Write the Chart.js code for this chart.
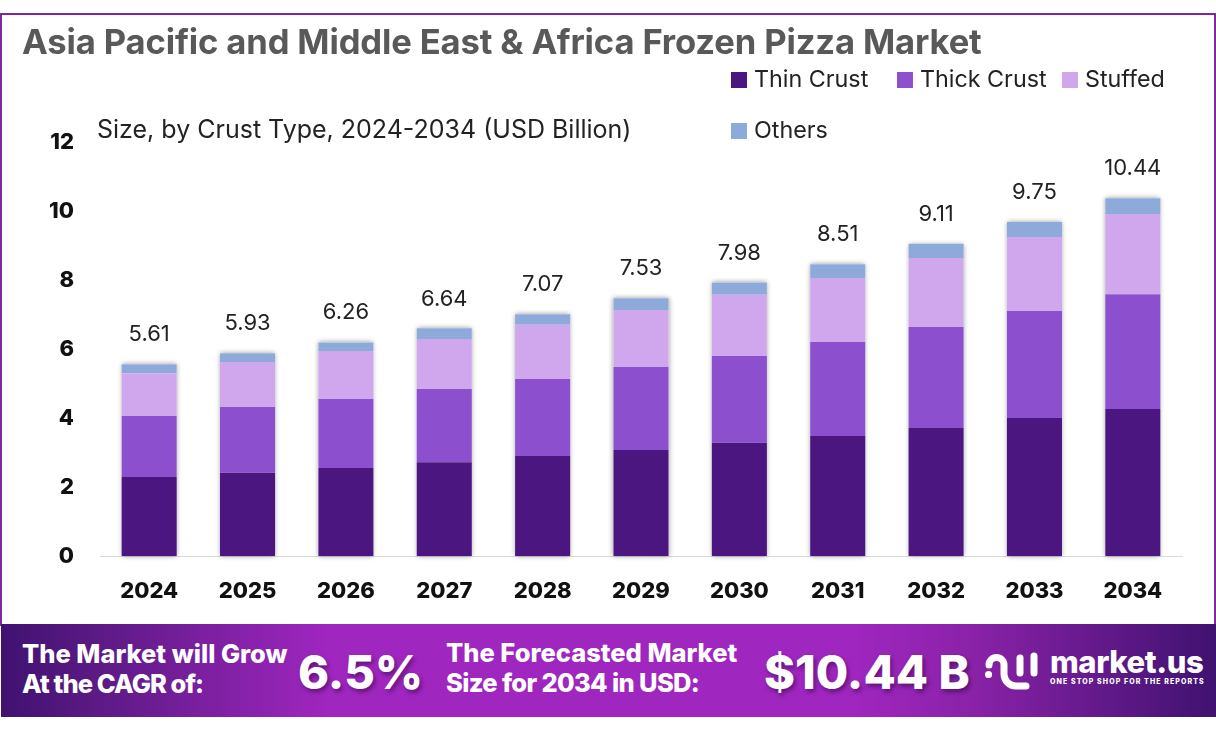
<!DOCTYPE html>
<html>
<head>
<meta charset="utf-8">
<script src="https://cdn.jsdelivr.net/npm/chart.js@4"></script>
<style>
    html, body { margin: 0; padding: 0; background: #fff; }
    body { position: relative; width: 1216px; height: 733px; overflow: hidden; font-family: Inter, sans-serif; }
    #frame { position: absolute; left: 0; top: 13px; width: 1212px; height: 611px; border: 2px solid #7b2a9e; border-bottom: 0; }
    canvas { position: absolute; left: 0; top: 0; }
    .text { position: absolute; white-space: nowrap; }
    #title { left: 22px; top: 20px; font-size: 34.6px; font-weight: 700; color: #595959; letter-spacing: -0.14px; }
    #subtitle { left: 97px; top: 114px; font-size: 25px; color: #222; }
    .legendItem { position: absolute; font-size: 23.3px; color: #222; line-height: 28px; white-space: nowrap; }
    .legendItem i { position: absolute; left: -23px; top: 7px; width: 16px; height: 16px; }
    #banner { position: absolute; left: 1px; top: 624px; width: 1215px; height: 93px;
        background: linear-gradient(90deg, #3f1270 0%, #5c1a85 8%, #a026c0 27%, #a026c0 70%, #8a22a8 80%, #3f1270 100%); }
    .bannerText { color: #fff; font-weight: 800; font-size: 25.5px; line-height: 30px; }
    .big { color: #fff; font-weight: 800; font-size: 47px; text-shadow: 2px 3px 4px rgba(40, 0, 60, 0.5); }
</style>
</head>
<body>
<div id="frame"></div>
<canvas id="chart" width="1216" height="733"></canvas>
<div class="text" id="title">Asia Pacific and Middle East &amp; Africa Frozen Pizza Market</div>
<div class="text" id="subtitle">Size, by Crust Type, 2024-2034 (USD Billion)</div>
<div id="legend"></div>
<div id="banner"></div>
<div class="text bannerText" style="left:22px;top:639px">The Market will Grow<br><span style="letter-spacing:-0.9px">At the CAGR of:</span></div>
<div class="text big" style="left:298px;top:643px">6.5%</div>
<div class="text bannerText" style="left:446px;top:638px">The Forecasted Market<br><span style="letter-spacing:-0.65px">Size for 2034 in USD:</span></div>
<div class="text big" style="left:764px;top:643px">$10.44 B</div>
<svg class="text" style="left:975px;top:640px" width="70" height="60" viewBox="0 0 70 60" fill="none" stroke="#fff" stroke-width="7" stroke-linecap="round">
    <path d="M13.5 34.5 h0.1 M14 25 a7.5 7.5 0 0 1 15 0 v9 a12 12 0 0 0 12 12 h10"/>
    <path d="M45 18 v15 M59 16 v17"/>
</svg>
<div class="text" style="left:1050px;top:643px;color:#fff;font-weight:800;font-size:31px;letter-spacing:-0.4px">market.us</div>
<div class="text" style="left:1050px;top:677px;color:#fff;font-weight:800;font-size:7px;letter-spacing:1.1px">ONE STOP SHOP FOR THE REPORTS</div>

<script>
const years = ["2024", "2025", "2026", "2027", "2028", "2029", "2030", "2031", "2032", "2033", "2034"];
const totals = [5.61, 5.93, 6.26, 6.64, 7.07, 7.53, 7.98, 8.51, 9.11, 9.75, 10.44];
const thinCrust = [2.29, 2.41, 2.55, 2.72, 2.9, 3.07, 3.28, 3.48, 3.71, 4.0, 4.26];
const thickCrust = [1.77, 1.91, 2.0, 2.12, 2.23, 2.41, 2.52, 2.72, 2.93, 3.1, 3.33];
const stuffed = [1.24, 1.3, 1.39, 1.45, 1.57, 1.65, 1.77, 1.86, 2.0, 2.15, 2.32];
const others = [0.26, 0.26, 0.25, 0.31, 0.31, 0.34, 0.36, 0.4, 0.41, 0.43, 0.46];
const yTicks = [0, 2, 4, 6, 8, 10, 12];

const seriesNames = ["Thin Crust", "Thick Crust", "Stuffed", "Others"];
const seriesColors = ["#4c1680", "#8c4fce", "#d0a6ec", "#8eaadb"];
const seriesValues = [thinCrust, thickCrust, stuffed, others];

// LEGEND

const legendSpots = [
    [754, 65],
    [920, 65],
    [1085, 65],
    [754, 116],
];
const legendContainer = document.getElementById("legend");
seriesNames.forEach((name, index) => {
    const item = document.createElement("div");
    item.className = "legendItem";
    item.style.left = legendSpots[index][0] + "px";
    item.style.top = legendSpots[index][1] + "px";
    item.textContent = name;
    const swatch = document.createElement("i");
    swatch.style.background = seriesColors[index];
    item.appendChild(swatch);
    legendContainer.appendChild(item);
});

// CHART

// soft shadow behind each whole stack, so it does not fall on the segment below
const stackShadow = {
    id: "stackShadow",
    beforeDatasetsDraw(chart) {
        const { ctx } = chart;
        const topBars = chart.getDatasetMeta(seriesNames.length - 1).data;
        ctx.save();
        ctx.shadowColor = "rgba(0, 0, 0, 0.4)";
        ctx.shadowBlur = 5;
        ctx.fillStyle = "#fff";
        topBars.forEach((bar) => {
            ctx.fillRect(bar.x - bar.width / 2, bar.y, bar.width, chart.scales.y.bottom - bar.y);
        });
        ctx.restore();
    },
};

const totalLabels = {
    id: "totalLabels",
    afterDatasetsDraw(chart) {
        const { ctx, scales } = chart;
        ctx.save();
        ctx.fillStyle = "#222";
        ctx.font = "22px Inter";
        ctx.textAlign = "center";
        ctx.textBaseline = "alphabetic";
        totals.forEach((total, index) => {
            ctx.fillText(total.toFixed(2), scales.x.getPixelForValue(index), scales.y.getPixelForValue(total) - 21);
        });
        ctx.restore();
    },
};

const chart = new Chart(document.getElementById("chart"), {
    type: "bar",
    data: {
        labels: years,
        datasets: seriesNames.map((label, index) => ({
            label,
            data: seriesValues[index],
            backgroundColor: seriesColors[index],
            barPercentage: 0.56,
            categoryPercentage: 1,
        })),
    },
    options: {
        responsive: false,
        animation: false,
        layout: { padding: { left: 0, right: 34, top: 142, bottom: 0 } },
        plugins: { legend: { display: false }, tooltip: { enabled: false } },
        scales: {
            x: {
                stacked: true,
                grid: { display: false, drawTicks: false },
                border: { color: "#d9d9d9" },
                ticks: { color: "#111", font: { family: "Inter", size: 22, weight: "800" }, padding: 22 },
                afterFit: (axis) => { axis.height = 177; },
            },
            y: {
                stacked: true,
                min: 0,
                max: 12,
                afterBuildTicks: (axis) => { axis.ticks = yTicks.map((value) => ({ value })); },
                grid: { display: false, drawTicks: false },
                border: { display: false },
                ticks: { color: "#111", font: { family: "Inter", size: 22, weight: "800" }, padding: 26 },
                afterFit: (axis) => { axis.width = 100; },
            },
        },
    },
    plugins: [stackShadow, totalLabels],
});
</script>
</body>
</html>
